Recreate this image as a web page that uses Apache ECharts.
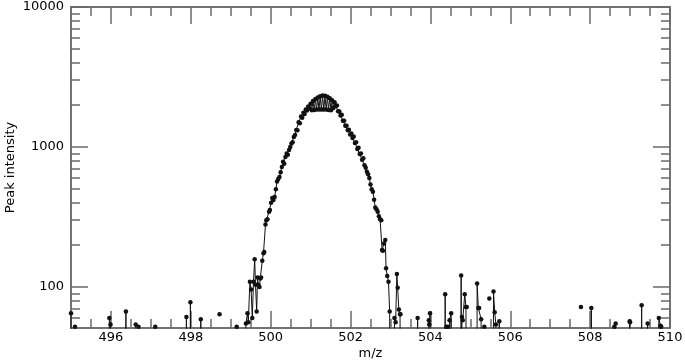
<!DOCTYPE html>
<html><head><meta charset="utf-8">
<script src="https://cdn.jsdelivr.net/npm/echarts@6/dist/echarts.min.js"></script>
<style>html,body{margin:0;padding:0;background:#fff}#c{width:685px;height:361px}</style>
</head><body><div id="c"></div>
<script>
// Tick values
const xTicksMajor = [496, 498, 500, 502, 504, 506, 508, 510];
const xTicksMinor = [495.5, 496.5, 497, 497.5, 498.5, 499, 499.5, 500.5, 501, 501.5, 502.5, 503, 503.5,
  504.5, 505, 505.5, 506.5, 507, 507.5, 508.5, 509, 509.5];
const yTicksMajor = [100, 1000, 10000];
const yTicksMinor = [60, 70, 80, 90, 200, 300, 400, 500, 600, 700, 800, 900,
  2000, 3000, 4000, 5000, 6000, 7000, 8000, 9000];

// Spectrum: [m/z, peak intensity]; 0 = no signal, null = gap in the trace
const leftNoise = [
  [495.0, 65], [495.005, 0], [495.095, 0], [495.1, 52], [495.105, 0],
  [495.955, 0], [495.96, 60], [495.99, 54], [495.995, 0],
  [496.37, 0], [496.375, 67], [496.38, 0],
  [496.615, 0], [496.62, 54], [496.69, 52], [496.695, 0],
  [497.105, 0], [497.11, 52], [497.115, 0],
  [497.885, 0], [497.89, 61], [497.895, 0],
  [497.985, 0], [497.99, 78], [497.995, 0],
  [498.245, 0], [498.25, 59], [498.255, 0],
  [498.6, null], [498.72, 64], [498.8, null],
  [499.145, 0], [499.15, 52], [499.155, 0]
];
const peakProfile = [
  [499.37, 0], [499.38, 55], [499.42, 65], [499.44, 56], [499.48, 109], [499.51, 96], [499.54, 60],
  [499.57, 109], [499.60, 158], [499.62, 104], [499.65, 67], [499.67, 117], [499.69, 104],
  [499.72, 100], [499.74, 115], [499.76, 117], [499.79, 154], [499.82, 174], [499.84, 178],
  [499.87, 280], [499.89, 300], [499.92, 305], [499.96, 345], [499.98, 355], [500.01, 400],
  [500.04, 432], [500.07, 418], [500.10, 440], [500.13, 500], [500.16, 567], [500.19, 590],
  [500.22, 610], [500.25, 660], [500.28, 720], [500.31, 785], [500.34, 760], [500.37, 850],
  [500.40, 900], [500.43, 880], [500.46, 951], [500.49, 1000], [500.52, 1060], [500.55, 1080],
  [500.58, 1180], [500.61, 1220], [500.64, 1322], [500.67, 1320], [500.70, 1500], [500.73, 1480],
  [500.76, 1650], [500.79, 1620], [500.82, 1760], [500.85, 1720], [500.88, 1850], [500.91, 1820],
  [500.94, 1950], [500.97, 1880], [501.00, 2040], [501.03, 1830], [501.06, 2130], [501.09, 1840],
  [501.12, 2200], [501.15, 1850], [501.18, 2260], [501.21, 1850], [501.24, 2300], [501.27, 1850],
  [501.30, 2330], [501.33, 1850], [501.36, 2320], [501.39, 1850], [501.42, 2290], [501.45, 1840],
  [501.48, 2230], [501.51, 1830], [501.54, 2160], [501.57, 1900], [501.60, 2090], [501.63, 1960],
  [501.66, 1980], [501.69, 1800], [501.72, 1790], [501.75, 1680], [501.78, 1700], [501.81, 1540],
  [501.84, 1540], [501.87, 1420], [501.90, 1420], [501.93, 1320], [501.96, 1330], [501.99, 1230],
  [502.02, 1250], [502.05, 1160], [502.08, 1190], [502.11, 1070], [502.14, 1080], [502.17, 970],
  [502.20, 990], [502.23, 890], [502.26, 900], [502.29, 810], [502.32, 830], [502.35, 740],
  [502.38, 710], [502.41, 665], [502.44, 640], [502.47, 600], [502.50, 540], [502.53, 500],
  [502.56, 480], [502.59, 420], [502.62, 370], [502.65, 360], [502.68, 345], [502.71, 320],
  [502.74, 305], [502.77, 300], [502.79, 184], [502.81, 182], [502.84, 205], [502.87, 217],
  [502.89, 136], [502.92, 120], [502.95, 109], [502.98, 67], [502.985, 0],
  [503.095, 0], [503.10, 60], [503.13, 56], [503.16, 124], [503.18, 99], [503.21, 69],
  [503.24, 64], [503.25, 64], [503.255, 0]
];
const rightNoise = [
  [503.675, 0], [503.68, 60], [503.685, 0],
  [503.955, 0], [503.96, 58], [503.97, 54], [503.99, 65], [503.995, 0],
  [504.365, 0], [504.37, 89], [504.375, 0], [504.395, 0], [504.40, 52], [504.44, 52], [504.445, 0],
  [504.475, 0], [504.48, 58], [504.52, 65], [504.525, 0],
  [504.765, 0], [504.77, 121], [504.775, 0], [504.79, 61], [504.81, 58], [504.86, 89],
  [504.89, 72], [504.91, 72], [504.915, 0],
  [505.165, 0], [505.17, 106], [505.20, 71], [505.22, 71], [505.27, 59], [505.275, 0],
  [505.31, null], [505.35, 52], [505.42, null], [505.475, 83], [505.53, null],
  [505.575, 0], [505.58, 93], [505.61, 66], [505.64, 54], [505.645, 0],
  [505.72, 0], [505.725, 57], [505.73, 0],
  [507.7, null], [507.77, 72], [507.85, null],
  [508.025, 0], [508.03, 71], [508.035, 0],
  [508.60, 0], [508.605, 52], [508.64, 55], [508.645, 0],
  [508.985, 0], [508.99, 57], [509.0, 56], [509.005, 0],
  [509.285, 0], [509.29, 74], [509.295, 0],
  [509.435, 0], [509.44, 55], [509.445, 0],
  [509.715, 0], [509.72, 60], [509.76, 53], [509.78, 52], [509.785, 0]
];

const ZERO_STAND_IN = 1; // log axis cannot show 0; a value far below the axis minimum
const seriesData = leftNoise.concat(peakProfile, rightNoise).map(p =>
  [p[0], p[1] === null ? null : (p[1] === 0 ? ZERO_STAND_IN : p[1])]);

const axisColor = '#6a6a6a';
const font = { color: '#000', fontFamily: 'DejaVu Sans', fontSize: 13 };
const fmt = v => String(v);

function xAxisDef(pos, ticks, len, withLabels) {
  return {
    type: 'value', min: 495, max: 510, position: pos,
    axisLine: { show: true, onZero: false, lineStyle: { color: axisColor, width: 1.5 } },
    axisTick: { show: true, inside: true, length: len, customValues: ticks, lineStyle: { color: axisColor, width: 1.5 } },
    axisLabel: withLabels ? Object.assign({ show: true, customValues: ticks, margin: 3, formatter: fmt, hideOverlap: false }, font) : { show: false },
    splitLine: { show: false }, minorTick: { show: false }
  };
}
function yAxisDef(pos, ticks, len, withLabels) {
  return {
    type: 'log', logBase: 10, min: 51, max: 10000, position: pos,
    axisLine: { show: true, onZero: false, lineStyle: { color: axisColor, width: 1.5 } },
    axisTick: { show: true, inside: true, length: len, customValues: ticks, lineStyle: { color: axisColor, width: 1.5 } },
    axisLabel: withLabels ? Object.assign({ show: true, customValues: ticks, margin: 7, formatter: fmt, hideOverlap: false }, font) : { show: false },
    splitLine: { show: false }, minorTick: { show: false }
  };
}

const xMain = xAxisDef('bottom', xTicksMajor, 17, true);
xMain.name = 'm/z'; xMain.nameLocation = 'middle'; xMain.nameGap = 19; xMain.nameTextStyle = font;
xMain.nameMoveOverlap = false;
const yMain = yAxisDef('left', yTicksMajor, 17, true);
yMain.name = 'Peak intensity'; yMain.nameLocation = 'middle'; yMain.nameGap = 54; yMain.nameTextStyle = font;
yMain.nameMoveOverlap = false;

const chart = echarts.init(document.getElementById('c'), null, { renderer: 'canvas' });
chart.setOption({
  animation: false,
  backgroundColor: '#fff',
  grid: { left: 71, right: 15, top: 7, bottom: 33, containLabel: false, outerBoundsMode: 'none' },
  xAxis: [xMain, xAxisDef('bottom', xTicksMinor, 9, false), xAxisDef('top', xTicksMajor, 17, false), xAxisDef('top', xTicksMinor, 9, false)],
  yAxis: [yMain, yAxisDef('left', yTicksMinor, 9, false), yAxisDef('right', yTicksMajor, 17, false), yAxisDef('right', yTicksMinor, 9, false)],
  series: [{
    type: 'line', xAxisIndex: 0, yAxisIndex: 0,
    data: seriesData,
    clip: true, connectNulls: false, showAllSymbol: true,
    symbol: 'circle',
    symbolSize: v => (v[1] > ZERO_STAND_IN ? 4.5 : 0),
    lineStyle: { color: '#111', width: 1 },
    itemStyle: { color: '#111' },
    emphasis: { disabled: true }
  }]
});
</script></body></html>
